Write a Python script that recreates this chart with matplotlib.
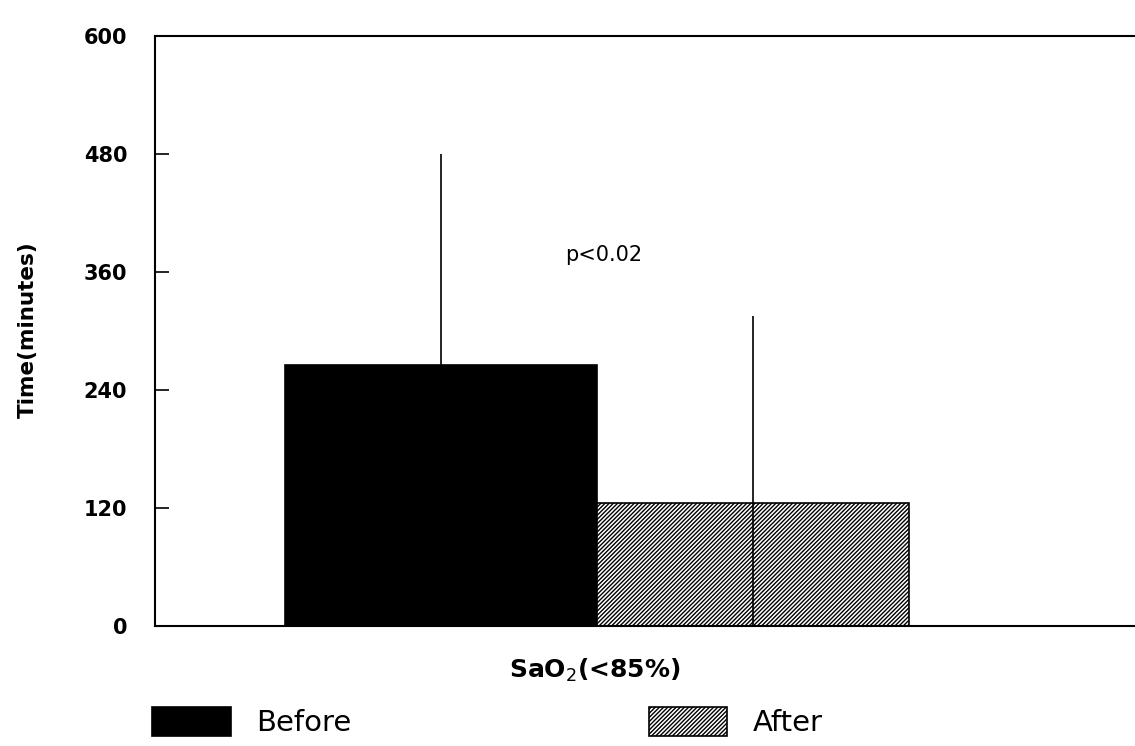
import matplotlib.pyplot as plt

# Values
groups = ['Before', 'After']
means = [265, 125]
upper_sd = [215, 190]
colors = ['black', 'white']
hatches = ['', '////////']
yticks = [0, 120, 240, 360, 480, 600]
xpos = [-0.5, 0.5]

plt.rcParams['hatch.linewidth'] = 1.0

fig = plt.figure(figsize=(11.35, 7.46), dpi=100)
ax = fig.add_axes([0.1366, 0.161, 0.8634, 0.791])

bars = []
for x, m, sd, c, h, g in zip(xpos, means, upper_sd, colors, hatches, groups):
    b = ax.bar(x, m, width=1.0, color=c, edgecolor='black', hatch=h,
               linewidth=1.2, label=g, zorder=2)
    bars.append(b)
    ax.errorbar(x, m, yerr=[[m], [sd]], fmt='none', ecolor='black',
                elinewidth=1.2, capsize=0, zorder=3)

ax.set_xlim(-1.417, 1.724)
ax.set_ylim(0, 600)
ax.set_yticks(yticks)
ax.set_yticklabels([str(t) for t in yticks], fontweight='bold', fontsize=15)
ax.set_xticks([])
ax.tick_params(axis='y', direction='in', length=10, width=1.2, pad=20)
for s in ['left', 'top', 'bottom']:
    ax.spines[s].set_linewidth(1.5)
ax.spines['right'].set_visible(False)

ax.set_ylabel('Time(minutes)', fontsize=15.5, fontweight='bold')
ax.yaxis.set_label_coords(-0.12, (626 - 330) / 590)
ax.set_xlabel('SaO$_2$(<85%)', fontsize=18, fontweight='bold')
ax.xaxis.set_label_coords((595 - 155) / 980, -0.052)

ax.text(0.02, 377, 'p<0.02', fontsize=15, ha='center', va='center')

fig.legend(handles=bars, labels=groups, loc='center left',
           bbox_to_anchor=(0.134, 0.032), ncol=2, frameon=False,
           fontsize=21, handlelength=2.7, handleheight=1.17,
           handletextpad=0.86, columnspacing=10.2, borderpad=0,
           borderaxespad=0)

fig.savefig('out.png', dpi=100)
